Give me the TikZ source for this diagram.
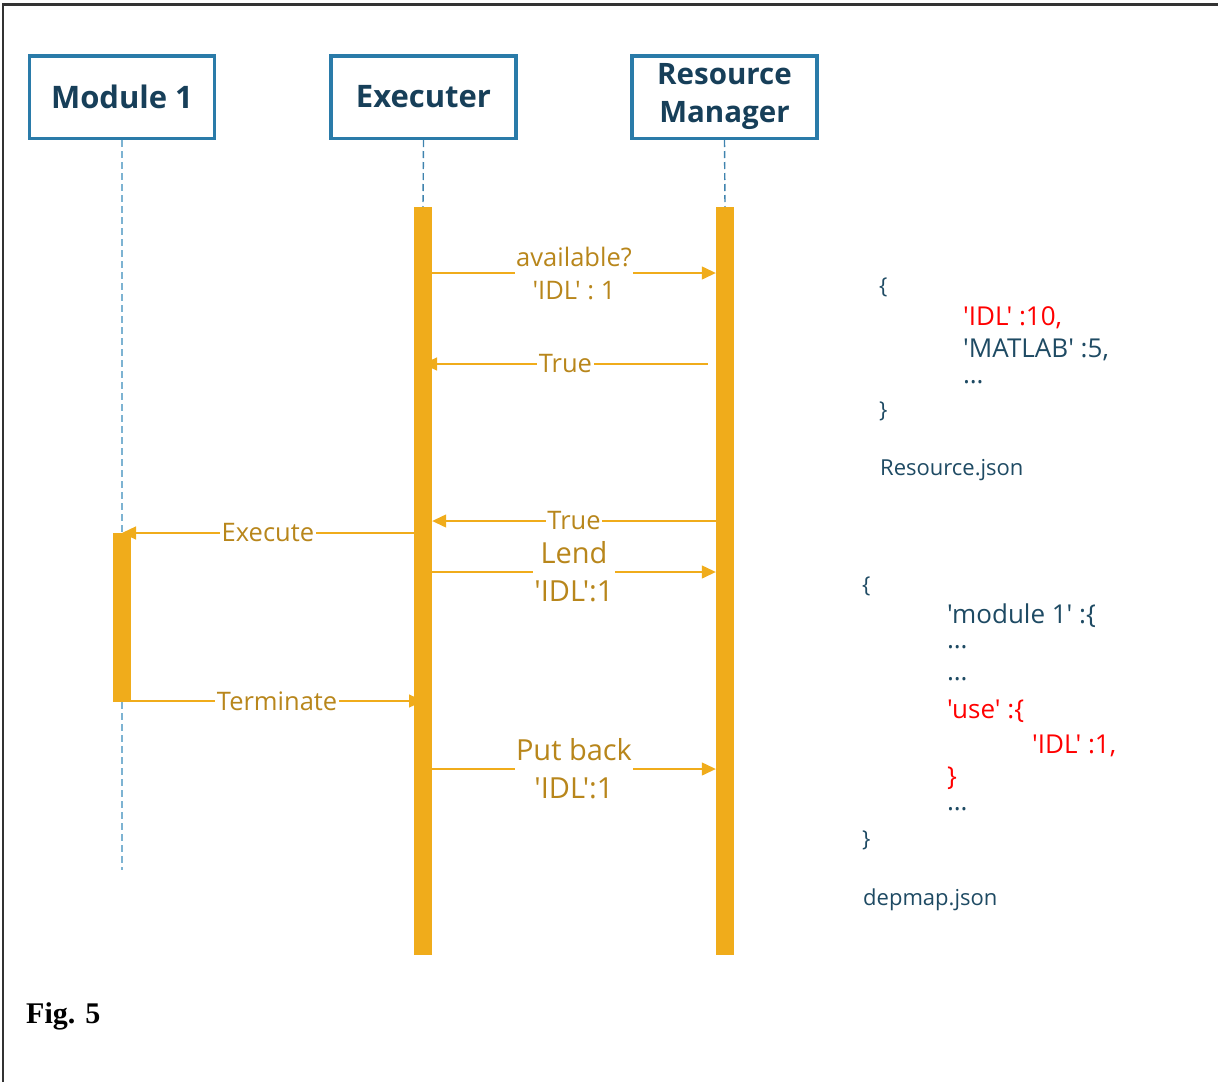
\documentclass[tikz,border=0pt]{standalone}
\usepackage{fontspec}
\newfontfamily\osans{Open Sans}
\newfontfamily\figfont{Liberation Serif}
\usetikzlibrary{arrows.meta}
\definecolor{boxblue}{HTML}{2A7BA9}
\definecolor{boxtext}{HTML}{173F59}
\definecolor{lifelt}{HTML}{7DB3D2}
\definecolor{lifedk}{HTML}{3F83AE}
\definecolor{barorange}{HTML}{F0AC1B}
\definecolor{msgtext}{HTML}{B8861B}
\definecolor{jsontext}{HTML}{1E4A63}
\definecolor{jsonred}{HTML}{FF0000}
\begin{document}
\begin{tikzpicture}[x=1pt,y=-1pt,
  actor/.style={draw=boxblue, line width=3.5pt, fill=white, minimum width=185pt,
    minimum height=82.5pt, inner sep=0pt, align=center, text=boxtext,
    font=\osans\fontsize{31}{38}\selectfont\bfseries},
  bar/.style={fill=barorange, draw=none, minimum width=18pt, inner sep=0pt},
  lifeline/.style={line width=1.4pt, dash pattern=on 7pt off 4pt},
  msg/.style={draw=barorange, line width=1.3pt, -{Triangle[length=14pt,width=13pt]}},
  lbl/.style={fill=white, text=msgtext, inner sep=1.5pt, align=center,
    font=\osans\fontsize{25.5}{33}\selectfont},
  biglbl/.style={lbl, font=\osans\fontsize{29}{38}\selectfont},
  json/.style={anchor=base west, inner sep=0pt, text=jsontext,
    font=\osans\fontsize{26}{30}\selectfont},
  jsonsm/.style={json, font=\osans\fontsize{22}{26}\selectfont},
  jsonr/.style={json, text=jsonred}]
\useasboundingbox (0,0) rectangle (1218,1082);
% frame
\draw[line width=2.5pt, black!80] (3,1082) -- (3,4.5) -- (1218,4.5);

% actors
\node[actor] (m1) at (122,97) {Module 1};
\node[actor] (ex) at (423.5,97) {Executer};
\node[actor, font=\osans\fontsize{29.5}{38}\selectfont\bfseries] (rm) at (724.5,97) {Resource\\Manager};

% activation bars
\node[bar, minimum height=748pt] (eb) at (423,581) {};
\node[bar, minimum height=748pt] (rb) at (725,581) {};
\node[bar, minimum height=169pt] (mb) at (122,617.5) {};

% lifelines
\coordinate (m1end) at (122,870);
\draw[lifeline, lifelt] (m1.south) -- (mb.north);
\draw[lifeline, lifelt] (mb.south) -- (m1end);
\draw[lifeline, lifedk] (ex.south) -- (eb.north);
\draw[lifeline, lifedk] (rm.south) -- (rb.north);

% messages
\draw[msg] (eb.east |- 0,273) -- node[lbl]{available?\\\char"27 IDL\char"27{} : 1} (rb.west |- 0,273);
\draw[msg, shorten <=8pt] (rb.west |- 0,364) -- node[lbl, xshift=-4pt]{True} (eb.center |- 0,364);
\draw[msg] (rb.west |- 0,521) -- node[lbl]{True} (eb.east |- 0,521);
\draw[msg] (eb.west |- 0,533) -- node[lbl]{Execute} (mb.center |- 0,533);
\draw[msg] (eb.east |- 0,572) -- node[biglbl]{Lend\\\char"27 IDL\char"27:1} (rb.west |- 0,572);
\draw[msg] (mb.east |- 0,701) -- node[lbl]{Terminate} (eb.center |- 0,701);
\draw[msg] (eb.east |- 0,769) -- node[biglbl]{Put back\\\char"27 IDL\char"27:1} (rb.west |- 0,769);

% Resource.json
\node[jsonsm] (r1) at (879,293) {\{};
\node[jsonr] (r2) at (963,325) {\char"27 IDL\char"27{} :10,};
\node[json] (r3) at (963,357) {\char"27 MATLAB\char"27{} :5,};
\node[json] (r4) at (963,383) {…};
\node[jsonsm] (r5) at (879,417) {\}};
\node[jsonsm] (r6) at (880,475) {Resource.json};

% depmap.json
\node[jsonsm] (d1) at (862,592) {\{};
\node[json] (d2) at (947,623) {\char"27 module 1\char"27{} :\{};
\node[json] (d3) at (947,648) {…};
\node[json] (d4) at (947,680) {…};
\node[jsonr] (d5) at (947,718) {\char"27 use\char"27{} :\{};
\node[jsonr] (d6) at (1032,753) {\char"27 IDL\char"27{} :1,};
\node[jsonr] (d7) at (947,785) {\}};
\node[json] (d8) at (947,810) {…};
\node[jsonsm] (d9) at (862,846) {\}};
\node[jsonsm] (d10) at (863,905) {depmap.json};

% caption
\node[anchor=base west, inner sep=0pt, font=\figfont\fontsize{30}{34}\selectfont\bfseries] (fig) at (26,1023) {Fig. 5};
\end{tikzpicture}
\end{document}
